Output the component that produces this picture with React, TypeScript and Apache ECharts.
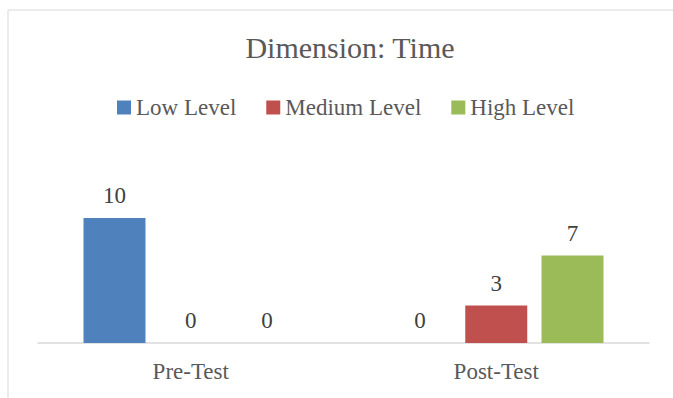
import React, { useEffect, useRef } from "react";
import * as echarts from "echarts";

const categories = ["Pre-Test", "Post-Test"];
const seriesNames = ["Low Level", "Medium Level", "High Level"];
const lowValues = [10, 0];
const mediumValues = [0, 3];
const highValues = [0, 7];
const colors = ["#4F81BD", "#C0504D", "#9BBB59"];

const FONT = "'Liberation Serif', 'Times New Roman', serif";

export default function App() {
  const ref = useRef<HTMLDivElement>(null);
  useEffect(() => {
    if (!ref.current) return;
    const chart = echarts.init(ref.current, undefined, { renderer: "svg" });
    const values = [lowValues, mediumValues, highValues];
    chart.setOption({
      animation: false,
      backgroundColor: "#ffffff",
      graphic: [
        {
          type: "rect",
          shape: { x: 8, y: 10, width: 720, height: 420 },
          style: { fill: "none", stroke: "#d9d9d9", lineWidth: 1 },
          silent: true,
        },
      ],
      title: {
        text: "Dimension: Time",
        left: 345,
        textAlign: "center",
        top: 27,
        textStyle: {
          fontFamily: FONT,
          fontSize: 30,
          fontWeight: "normal",
          color: "#595959",
        },
      },
      legend: {
        data: seriesNames,
        left: 117,
        top: 96,
        itemWidth: 14,
        itemHeight: 14,
        itemGap: 30,
        icon: "rect",
        textStyle: {
          fontFamily: FONT,
          fontSize: 23,
          color: "#595959",
          padding: [0, 0, 0, 0],
        },
        padding: 0,
      },
      grid: {
        left: 38,
        right: 24,
        top: 168,
        bottom: 55,
        containLabel: false,
      },
      xAxis: {
        type: "category",
        data: categories,
        axisLine: { lineStyle: { color: "#d9d9d9", width: 1.5 } },
        axisTick: { show: false },
        axisLabel: {
          fontFamily: FONT,
          fontSize: 23,
          color: "#595959",
          margin: 17,
        },
      },
      yAxis: {
        type: "value",
        min: 0,
        max: 14,
        show: false,
        splitLine: { show: false },
      },
      series: seriesNames.map((name, i) => ({
        name,
        type: "bar",
        data: values[i],
        barWidth: 62,
        barGap: "23%",
        itemStyle: { color: colors[i] },
        label: {
          show: true,
          position: "top",
          distance: 11,
          fontFamily: FONT,
          fontSize: 23,
          color: "#404040",
        },
      })),
    });
    return () => chart.dispose();
  }, []);
  return (
    <div
      ref={ref}
      style={{ position: "absolute", left: 0, top: 0, width: 673, height: 398 }}
    />
  );
}
